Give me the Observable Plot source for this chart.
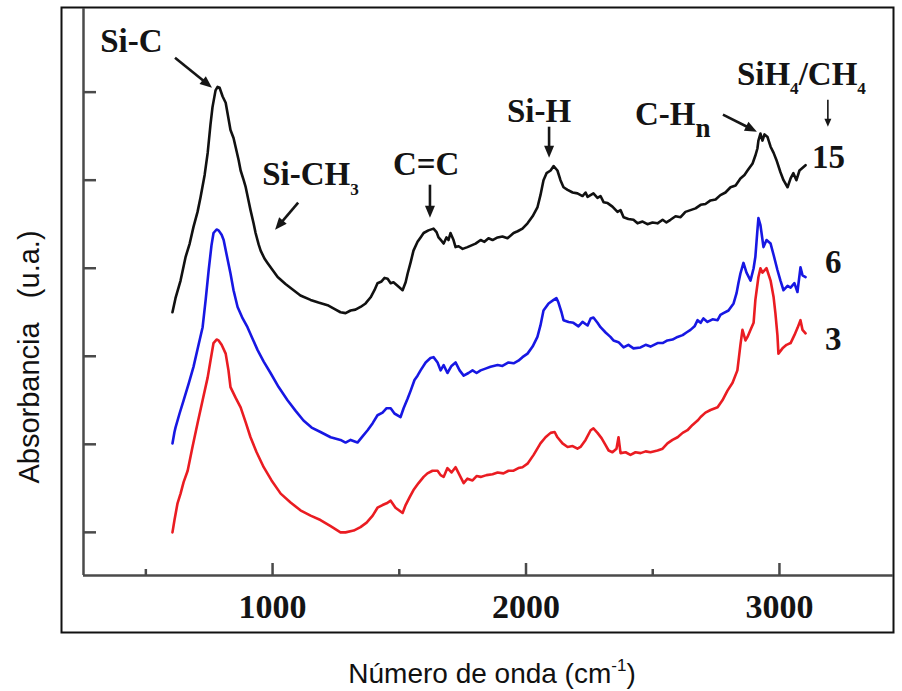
<!DOCTYPE html>
<html>
<head>
<meta charset="utf-8">
<script src="https://cdn.jsdelivr.net/npm/d3@7"></script>
<script src="https://cdn.jsdelivr.net/npm/@observablehq/plot@0.6"></script>
<style>
  html, body { margin: 0; padding: 0; background: #fff; }
  #chart svg { display: block; background: #fff; }
</style>
</head>
<body>
<div id="chart"></div>
<script>
// FTIR absorbance spectra of a-SiC:H films grown at SiH4/CH4 ratios 3, 6 and 15
// Each spectrum: [wavenumber (cm-1), absorbance (a.u., vertically offset)]
const spectrum15 = [
  [605,2.50],[617,2.66],[637,2.86],[657,3.13],[673,3.28],[688,3.47],[704,3.64],[716,3.81],[732,4.06],[744,4.31],
  [755,4.63],[763,4.83],[775,5.02],[783,5.06],[791,5.05],[803,4.95],[815,4.88],[826,4.70],[834,4.57],[846,4.48],
  [854,4.38],[866,4.23],[874,4.11],[886,4.00],[894,3.92],[905,3.77],[913,3.66],[925,3.51],[933,3.40],[945,3.27],
  [953,3.20],[968,3.11],[980,3.06],[1000,2.98],[1020,2.90],[1051,2.82],[1083,2.75],[1110,2.69],[1150,2.64],[1181,2.61],
  [1217,2.58],[1249,2.53],[1268,2.50],[1288,2.49],[1308,2.52],[1327,2.53],[1347,2.56],[1367,2.60],[1387,2.67],[1402,2.75],
  [1414,2.83],[1430,2.85],[1442,2.89],[1454,2.88],[1466,2.83],[1477,2.84],[1493,2.80],[1513,2.75],[1525,2.84],[1533,2.94],
  [1545,3.07],[1556,3.20],[1572,3.30],[1584,3.35],[1596,3.40],[1615,3.43],[1635,3.45],[1647,3.41],[1655,3.35],[1667,3.31],
  [1675,3.28],[1686,3.35],[1694,3.32],[1702,3.40],[1714,3.32],[1722,3.24],[1734,3.25],[1750,3.22],[1769,3.24],[1785,3.26],
  [1801,3.28],[1821,3.32],[1836,3.30],[1852,3.34],[1868,3.32],[1888,3.35],[1907,3.36],[1927,3.34],[1951,3.40],[1967,3.42],
  [1986,3.45],[2006,3.51],[2026,3.59],[2045,3.69],[2057,3.83],[2069,4.00],[2081,4.08],[2097,4.11],[2109,4.16],[2124,4.11],
  [2136,4.00],[2148,3.92],[2164,3.89],[2184,3.86],[2203,3.85],[2223,3.82],[2235,3.86],[2243,3.81],[2266,3.85],[2282,3.80],
  [2294,3.82],[2306,3.75],[2322,3.74],[2341,3.70],[2361,3.64],[2373,3.66],[2385,3.58],[2404,3.56],[2424,3.55],[2440,3.51],
  [2460,3.53],[2479,3.50],[2499,3.52],[2519,3.51],[2539,3.55],[2554,3.52],[2570,3.55],[2590,3.59],[2610,3.58],[2629,3.64],
  [2649,3.66],[2669,3.68],[2689,3.72],[2708,3.73],[2728,3.77],[2748,3.78],[2767,3.83],[2787,3.86],[2807,3.92],[2827,3.94],
  [2846,4.02],[2862,4.06],[2874,4.11],[2894,4.19],[2905,4.28],[2913,4.36],[2917,4.45],[2925,4.53],[2933,4.45],[2941,4.52],
  [2953,4.49],[2965,4.38],[2977,4.31],[2988,4.23],[3004,4.09],[3016,4.00],[3032,3.92],[3044,4.02],[3055,4.08],[3067,4.00],
  [3079,4.11],[3095,4.15],[3103,4.17]
];

const spectrum6 = [
  [605,1.01],[613,1.14],[617,1.19],[633,1.35],[649,1.50],[669,1.69],[688,1.88],[708,2.13],[724,2.33],[736,2.64],
  [748,2.98],[759,3.26],[767,3.40],[779,3.44],[787,3.43],[799,3.38],[807,3.32],[819,3.15],[834,2.94],[846,2.75],
  [862,2.56],[882,2.43],[901,2.33],[921,2.20],[941,2.07],[965,1.94],[992,1.81],[1024,1.65],[1059,1.50],[1091,1.38],
  [1122,1.27],[1154,1.19],[1189,1.14],[1229,1.08],[1268,1.05],[1288,1.02],[1308,1.05],[1335,1.02],[1355,1.09],[1375,1.16],
  [1395,1.24],[1414,1.33],[1434,1.36],[1450,1.41],[1466,1.41],[1481,1.35],[1505,1.31],[1517,1.41],[1533,1.52],[1545,1.61],
  [1560,1.73],[1572,1.78],[1584,1.84],[1604,1.93],[1623,1.98],[1635,1.99],[1651,1.93],[1663,1.84],[1675,1.90],[1690,1.81],
  [1706,1.89],[1722,1.93],[1738,1.84],[1754,1.78],[1773,1.81],[1789,1.84],[1805,1.81],[1821,1.84],[1840,1.86],[1860,1.88],
  [1888,1.90],[1907,1.89],[1931,1.93],[1951,1.92],[1970,1.95],[1986,1.99],[2006,2.03],[2026,2.11],[2045,2.22],[2057,2.35],
  [2069,2.52],[2089,2.60],[2109,2.64],[2120,2.66],[2128,2.61],[2140,2.50],[2148,2.41],[2168,2.39],[2187,2.38],[2207,2.34],
  [2223,2.39],[2243,2.35],[2255,2.43],[2266,2.44],[2282,2.38],[2294,2.33],[2314,2.27],[2333,2.22],[2345,2.18],[2365,2.16],
  [2385,2.10],[2404,2.13],[2424,2.09],[2452,2.10],[2472,2.13],[2491,2.11],[2519,2.15],[2539,2.15],[2558,2.18],[2578,2.19],
  [2598,2.22],[2618,2.24],[2633,2.27],[2649,2.30],[2665,2.34],[2677,2.41],[2689,2.38],[2700,2.43],[2716,2.39],[2736,2.42],
  [2756,2.41],[2767,2.47],[2779,2.49],[2799,2.52],[2819,2.60],[2831,2.72],[2838,2.83],[2846,2.94],[2858,3.06],[2870,2.95],
  [2886,2.86],[2898,3.00],[2905,3.13],[2913,3.43],[2917,3.57],[2925,3.49],[2937,3.24],[2949,3.32],[2965,3.28],[2977,3.15],
  [2992,2.98],[3004,2.86],[3016,2.75],[3032,2.80],[3044,2.78],[3059,2.83],[3071,2.73],[3083,3.01],[3091,2.92],[3103,2.90]
];

const spectrum3 = [
  [605,0.00],[613,0.14],[625,0.33],[637,0.44],[649,0.57],[665,0.70],[684,0.97],[704,1.24],[724,1.50],[744,1.76],
  [755,1.95],[767,2.15],[779,2.19],[787,2.18],[799,2.13],[815,2.03],[826,1.84],[834,1.65],[854,1.53],[874,1.42],
  [894,1.25],[913,1.08],[937,0.91],[965,0.74],[996,0.59],[1032,0.44],[1071,0.34],[1110,0.25],[1150,0.19],[1189,0.14],
  [1229,0.07],[1268,0.00],[1288,0.00],[1320,0.02],[1347,0.06],[1371,0.11],[1395,0.19],[1414,0.28],[1434,0.31],[1450,0.33],
  [1466,0.36],[1485,0.28],[1513,0.22],[1525,0.31],[1541,0.40],[1556,0.48],[1576,0.56],[1596,0.63],[1611,0.67],[1631,0.70],
  [1651,0.70],[1663,0.65],[1675,0.63],[1690,0.73],[1706,0.68],[1722,0.74],[1738,0.65],[1754,0.56],[1769,0.61],[1789,0.59],
  [1805,0.64],[1821,0.63],[1844,0.65],[1868,0.66],[1888,0.68],[1911,0.67],[1931,0.70],[1951,0.70],[1970,0.73],[1986,0.74],
  [2006,0.78],[2030,0.88],[2057,1.01],[2077,1.08],[2097,1.13],[2113,1.14],[2124,1.08],[2144,1.01],[2164,0.97],[2184,0.98],
  [2203,0.95],[2215,0.97],[2235,1.05],[2255,1.16],[2266,1.18],[2282,1.13],[2298,1.07],[2314,0.99],[2326,0.93],[2341,0.91],
  [2357,0.95],[2365,1.08],[2373,0.90],[2393,0.91],[2412,0.88],[2432,0.91],[2452,0.90],[2472,0.92],[2491,0.91],[2519,0.93],
  [2539,0.95],[2558,1.01],[2578,1.05],[2598,1.08],[2618,1.13],[2637,1.16],[2657,1.22],[2677,1.27],[2689,1.31],[2708,1.36],
  [2728,1.39],[2756,1.42],[2775,1.50],[2795,1.61],[2815,1.70],[2834,1.84],[2846,2.13],[2854,2.30],[2866,2.18],[2874,2.22],
  [2886,2.30],[2898,2.38],[2905,2.64],[2917,2.90],[2925,3.00],[2933,2.95],[2949,3.00],[2965,2.86],[2977,2.67],[2984,2.49],
  [2992,2.24],[2996,2.03],[3012,2.09],[3028,2.13],[3044,2.15],[3059,2.24],[3071,2.32],[3083,2.41],[3091,2.30],[3103,2.26]
];

const ratioNames = ["3", "6", "15"];
const ratioColors = ["#ea1c22", "#1717e3", "#111111"];

// Axis ticks (the y axis carries unlabelled ticks only)
const majorTicks = [1000, 2000, 3000];
const minorTicks = [500, 1500, 2500];
const yTicks = [0, 1, 2, 3, 4, 5];

// Band assignments: label segments and the point (wavenumber, absorbance) where the text starts
const bandLabels = [
  {segments: [["Si-C", ""]], nu: 322, a: 5.455},
  {segments: [["Si-CH", ""], ["3", "sub"]], nu: 961, a: 3.943},
  {segments: [["C=C", ""]], nu: 1477, a: 4.057},
  {segments: [["Si-H", ""]], nu: 1927, a: 4.659},
  {segments: [["C-H", ""], ["n", "subL"]], nu: 2432, a: 4.625},
  {segments: [["SiH", ""], ["4", "sub"], ["/CH", ""], ["4", "sub"]], nu: 2834, a: 5.08}
];
// Arrows pointing at the bands: [nu from, a from, nu to, a to]
const bandArrows = [
  [617, 5.386, 763, 5.045],
  [1103, 3.739, 1012, 3.432],
  [1623, 3.943, 1623, 3.568],
  [2093, 4.602, 2093, 4.250],
  [2779, 4.739, 2913, 4.545]
];
const ratioArrow = [[3193, 4.909, 3193, 4.602]];
// Ratio label next to the end of each spectrum
const ratioLabels = [
  {segments: [["15", ""]], nu: 3130, a: 4.136},
  {segments: [["6", ""]], nu: 3182, a: 2.943},
  {segments: [["3", ""]], nu: 3182, a: 2.068}
];

const spectra = [spectrum3, spectrum6, spectrum15];
const rows = spectra.flatMap((s, i) => s.map(([nu, a]) => ({nu, a, ratio: ratioNames[i]})));

const serif = "'Liberation Serif', 'Times New Roman', 'DejaVu Serif', serif";
const sans = "'Liberation Sans', Arial, Helvetica, sans-serif";
const axisGray = "#4a4a4a";

// Text with sub/superscript segments, anchored in data space
function richText(items, {fontSize = 33, fontFamily = serif, fontWeight = "bold"} = {}) {
  return (index, scales) => {
    const g = d3.create("svg:g").attr("text-anchor", "start");
    for (const item of items) {
      const t = g.append("text")
        .attr("x", scales.x(item.nu))
        .attr("y", scales.y(item.a))
        .attr("text-anchor", "start")
        .attr("font-family", fontFamily)
        .attr("font-weight", fontWeight)
        .attr("font-size", fontSize)
        .attr("fill", "#141414");
      let shift = 0;
      for (const [s, role] of item.segments) {
        let target = 0, size = fontSize;
        if (role === "sub") { target = 0.3 * fontSize; size = 0.52 * fontSize; }
        if (role === "subL") { target = 0.36 * fontSize; size = 0.82 * fontSize; }
        t.append("tspan").attr("dy", target - shift).attr("font-size", size).text(s);
        shift = target;
      }
    }
    return g.node();
  };
}

// Straight arrows with solid triangular heads
function arrows(list, {width = 2.6, head = 12, half = 5} = {}) {
  return (index, scales) => {
    const g = d3.create("svg:g");
    for (const [n1, a1, n2, a2] of list) {
      const x1 = scales.x(n1), y1 = scales.y(a1), x2 = scales.x(n2), y2 = scales.y(a2);
      const len = Math.hypot(x2 - x1, y2 - y1), ux = (x2 - x1) / len, uy = (y2 - y1) / len;
      const bx = x2 - ux * head, by = y2 - uy * head;
      g.append("line").attr("x1", x1).attr("y1", y1).attr("x2", bx + ux).attr("y2", by + uy)
        .attr("stroke", "#161616").attr("stroke-width", width);
      g.append("path")
        .attr("d", `M${x2},${y2}L${bx - uy * half},${by + ux * half}L${bx + uy * half},${by - ux * half}Z`)
        .attr("fill", "#161616");
    }
    return g.node();
  };
}

// Horizontal axis title with superscript
function xTitle(index, scales, values, dims) {
  const cx = (dims.marginLeft + dims.width - dims.marginRight) / 2 + 4;
  const t = d3.create("svg:text")
    .attr("x", cx).attr("y", dims.height - dims.marginBottom + 108)
    .attr("text-anchor", "middle")
    .attr("font-family", sans).attr("font-size", 28).attr("fill", "#111");
  t.append("tspan").text("Número de onda (cm");
  t.append("tspan").attr("dy", -12).attr("font-size", 17).text("-1");
  t.append("tspan").attr("dy", 12).text(")");
  return t.node();
}

const innerH = 691 - 8 - 116;
const innerW = 902 - 83 - 9;

const chart = Plot.plot({
  width: 902,
  height: 691,
  marginLeft: 83,
  marginRight: 9,
  marginTop: 8,
  marginBottom: 116,
  style: {background: "#fff", overflow: "visible"},
  x: {domain: [254, 3450], axis: null},
  y: {domain: [-0.49, 5.95], axis: null},
  marks: [
    // outer box around the plotting region
    Plot.frame({stroke: "#111", strokeWidth: 2, insetLeft: -22, insetTop: -1, insetBottom: -57}),
    // axis lines
    Plot.ruleX([254], {stroke: axisGray, strokeWidth: 2.5}),
    Plot.ruleY([-0.49], {stroke: axisGray, strokeWidth: 2.5}),
    // inward ticks
    Plot.tickX(majorTicks, {x: d => d, insetTop: innerH - 12, stroke: axisGray, strokeWidth: 2.5}),
    Plot.tickX(minorTicks, {x: d => d, insetTop: innerH - 6, stroke: axisGray, strokeWidth: 2.5}),
    Plot.tickY(yTicks, {y: d => d, insetRight: innerW - 13, stroke: axisGray, strokeWidth: 2.5}),
    Plot.axisX(majorTicks, {
      anchor: "bottom", tickSize: 0, tickPadding: 18, label: null,
      tickFormat: d => String(d), fontSize: 34, fontFamily: serif, fontWeight: "bold", fill: "#141414"
    }),
    // spectra
    ...spectra.map((s, i) => Plot.line(rows.filter(r => r.ratio === ratioNames[i]), {
      x: "nu", y: "a", stroke: ratioColors[i], strokeWidth: 2.6, strokeLinejoin: "round"
    })),
    // annotations
    arrows(bandArrows),
    arrows(ratioArrow, {width: 1.6, head: 8, half: 3.5}),
    richText(bandLabels),
    richText(ratioLabels),
    // axis titles
    Plot.text(["Absorbancia\u00a0\u00a0 (u.a.)"], {
      frameAnchor: "left", rotate: -90, dx: -54, dy: 65,
      fontSize: 29, fontFamily: sans, fill: "#111", textAnchor: "middle", lineAnchor: "middle"
    }),
    xTitle
  ]
});

document.getElementById("chart").append(chart);
</script>
</body>
</html>
